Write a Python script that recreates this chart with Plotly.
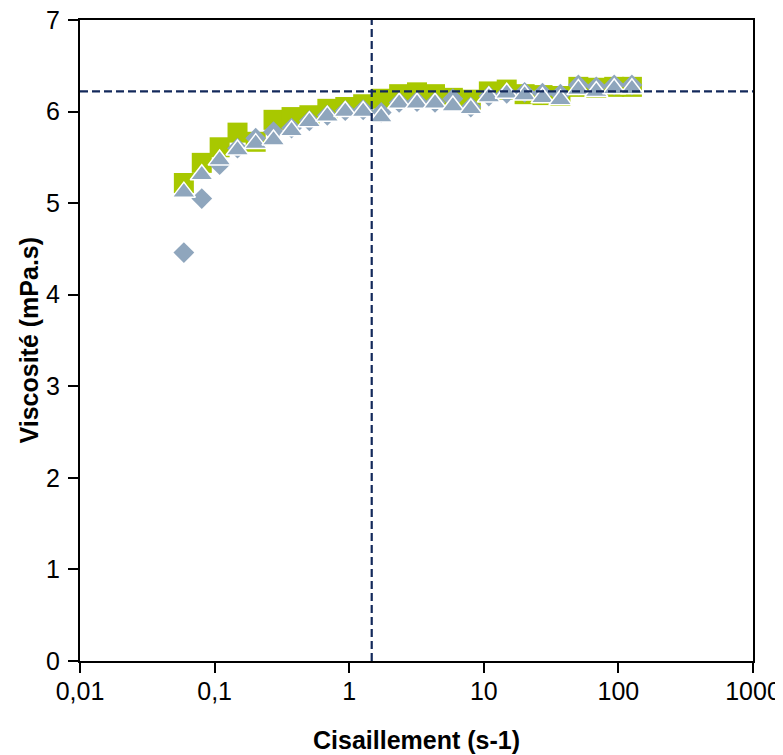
import plotly.graph_objects as go

# Shear rate (s-1)
shear = [0.0591, 0.0803, 0.109, 0.148, 0.202, 0.274, 0.373, 0.506, 0.688, 0.935,
         1.27, 1.73, 2.35, 3.19, 4.34, 5.89, 8.01, 10.9, 14.8, 20.1,
         27.3, 37.1, 50.4, 68.5, 93.1, 126.0]

# Viscosity series (mPa.s)
visc_square = [5.22, 5.44, 5.61, 5.77, 5.67, 5.91, 5.94, 5.96, 6.03, 6.05,
               6.08, 6.14, 6.19, 6.21, 6.19, 6.15, 6.13, 6.22, 6.24, 6.19,
               6.18, 6.17, 6.27, 6.26, 6.27, 6.27]
visc_diamond = [4.46, 5.05, 5.42, 5.60, 5.71, 5.78, 5.82, 5.90, 5.96, 6.01,
                6.02, 5.99, 6.10, 6.11, 6.10, 6.14, 6.05, 6.17, 6.20, 6.21,
                6.20, 6.19, 6.29, 6.27, 6.29, 6.29]
visc_triangle = [5.12, 5.31, 5.47, 5.58, 5.65, 5.69, 5.79, 5.89, 5.95, 6.00,
                 6.00, 5.94, 6.09, 6.09, 6.09, 6.06, 6.03, 6.16, 6.20, 6.18,
                 6.15, 6.13, 6.24, 6.22, 6.25, 6.25]

# Reference lines
ref_shear = 1.47
ref_visc = 6.22

x_tickvals = [0.01, 0.1, 1, 10, 100, 1000]
x_ticktext = ["0,01", "0,1", "1", "10", "100", "1000"]
y_tickvals = [0, 1, 2, 3, 4, 5, 6, 7]

x_min, x_max = 0.01, 1000
y_min, y_max = 0, 7

GREEN = "#A8C800"
GREY = "#8FA6BD"
NAVY = "#13295B"
FONT = "Liberation Sans, Arial, sans-serif"

fig = go.Figure()
fig.add_trace(go.Scatter(x=shear, y=visc_square, mode="markers",
                         marker=dict(symbol="square", size=20, color=GREEN,
                                     line=dict(width=0)),
                         showlegend=False, cliponaxis=False))
fig.add_trace(go.Scatter(x=shear, y=visc_diamond, mode="markers",
                         marker=dict(symbol="diamond", size=16, color=GREY,
                                     line=dict(width=0)),
                         showlegend=False, cliponaxis=False))
fig.add_trace(go.Scatter(x=shear, y=visc_triangle, mode="markers",
                         marker=dict(symbol="triangle-up", size=20, color=GREY,
                                     line=dict(width=1.5, color="white")),
                         showlegend=False, cliponaxis=False))
fig.add_trace(go.Scatter(x=[x_min, x_max], y=[ref_visc, ref_visc], mode="lines",
                         line=dict(color=NAVY, width=2.2, dash="8px,4px"),
                         showlegend=False))
fig.add_trace(go.Scatter(x=[ref_shear, ref_shear], y=[y_min, y_max], mode="lines",
                         line=dict(color=NAVY, width=2.2, dash="8px,4px"),
                         showlegend=False))

fig.update_layout(
    width=775, height=747,
    margin=dict(l=72, r=30, t=12, b=94, autoexpand=False),
    paper_bgcolor="white", plot_bgcolor="white",
    font=dict(family=FONT, size=25, color="black"),
    xaxis=dict(type="log", range=[-2, 3], tickvals=x_tickvals, ticktext=x_ticktext,
               showline=True, linecolor="black", linewidth=2, mirror=True,
               ticks="outside", ticklen=10, tickwidth=2, tickcolor="black",
               showgrid=False, zeroline=False, ticklabelstandoff=-3,
               automargin=False, ticklabeloverflow="allow",
               tickfont=dict(family=FONT, size=25)),
    yaxis=dict(range=[y_min, y_max], tickvals=y_tickvals,
               showline=True, linecolor="black", linewidth=2, mirror=True,
               ticks="outside", ticklen=10, tickwidth=2, tickcolor="black",
               showgrid=False, zeroline=False, ticklabelstandoff=3,
               automargin=False, ticklabeloverflow="allow",
               tickfont=dict(family=FONT, size=25)),
    annotations=[
        dict(text="<b>Cisaillement (s-1)</b>", xref="paper", yref="paper",
             x=0.5, y=0, xanchor="center", yanchor="middle", yshift=-79,
             showarrow=False, font=dict(family=FONT, size=25)),
        dict(text="<b>Viscosité (mPa.s)</b>", xref="paper", yref="paper",
             x=0, y=0.5, xanchor="center", yanchor="middle", xshift=-52,
             textangle=-90, showarrow=False, font=dict(family=FONT, size=25)),
    ],
)

fig.write_html("out.html")
